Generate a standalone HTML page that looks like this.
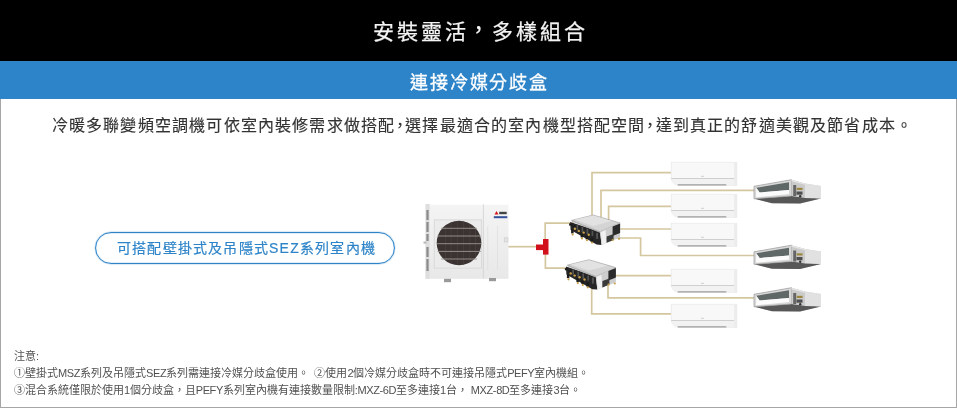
<!DOCTYPE html>
<html lang="zh-TW">
<head>
<meta charset="utf-8">
<style>
html,body{margin:0;padding:0;}
.hdr span,.bar span,.p1,.pill,.notes{will-change:transform;}
body{width:957px;height:408px;overflow:hidden;background:#fff;font-family:"Liberation Sans",sans-serif;position:relative;}
.hdr{position:absolute;left:0;top:0;width:957px;height:61px;background:#000;}
.hdr span{position:absolute;left:2px;width:957px;top:17px;text-align:center;color:#f4f4f4;font-size:21px;letter-spacing:2.85px;-webkit-text-stroke:0.25px #f4f4f4;line-height:30px;white-space:nowrap;}
.hdr i{font-style:normal;position:relative;top:-2px;left:-1px;}
.bar{position:absolute;left:0;top:61px;width:957px;height:38px;background:#2e84c8;}
.bar span{position:absolute;left:1px;width:957px;top:8.5px;text-align:center;color:#fff;font-size:18px;letter-spacing:1.87px;line-height:26px;-webkit-text-stroke:0.3px #fff;white-space:nowrap;}
.frame{position:absolute;left:0;top:99px;width:955px;height:308px;border:1px solid #a6a6a6;border-top:none;}
.p1{position:absolute;left:4px;width:957px;top:112.5px;text-align:center;color:#333;font-size:16px;letter-spacing:1.17px;-webkit-text-stroke:0.15px #333;line-height:26px;white-space:nowrap;}
.p1 i{font-style:normal;display:inline-block;width:10px;position:relative;top:-0.5px;left:-3.5px;text-indent:0;overflow:visible;letter-spacing:0;}
.pill{position:absolute;left:95px;top:232px;width:298px;height:30px;border:1px solid #2e84c8;border-radius:16px;box-shadow:0 0 0.8px 0.2px rgba(46,132,200,.55), inset 0 0 0.8px 0.2px rgba(46,132,200,.55);color:#2e84c8;font-size:14px;letter-spacing:1.2px;text-align:center;text-indent:3px;line-height:30px;white-space:nowrap;-webkit-text-stroke:0.2px #2e84c8;}
.notes{position:absolute;left:14px;top:347.5px;color:#505050;font-size:11px;line-height:17px;letter-spacing:0px;white-space:nowrap;}
.notes b{font-weight:normal;letter-spacing:-0.4px;}
.notes i.sp{display:inline-block;width:5.2px;}
svg{position:absolute;left:0;top:0;}
</style>
</head>
<body>
<div class="hdr"><span>安裝靈活<i>，</i>多樣組合</span></div>
<div class="bar"><span>連接冷媒分歧盒</span></div>
<div class="frame"></div>
<div class="p1">冷暖多聯變頻空調機可依室內裝修需求做搭配<i>，</i>選擇最適合的室內機型搭配空間<i>，</i>達到真正的舒適美觀及節省成本。</div>
<div class="pill">可搭配壁掛式及吊隱式SEZ系列室內機</div>
<div class="notes">注意:<br>①壁掛式<b>MSZ</b>系列及吊隱式<b>SEZ</b>系列需連接冷媒分歧盒使用。<i class="sp"></i>②使用<b>2</b>個冷媒分歧盒時不可連接吊隱式<b>PEFY</b>室內機組。<br>③混合系統僅限於使用<b>1</b>個分歧盒，且<b>PEFY</b>系列室內機有連接數量限制<b>:MXZ-6D</b>至多連接<b>1</b>台， <b>MXZ-8D</b>至多連接<b>3</b>台。</div>

<svg width="957" height="408" viewBox="0 0 957 408">
<defs>
  <clipPath id="fanclip"><circle cx="459" cy="243" r="22"/></clipPath>
  <clipPath id="fanclip2"><rect x="434.5" y="220" width="47" height="48"/></clipPath>
  <linearGradient id="odg" x1="0" y1="0" x2="0" y2="1">
    <stop offset="0" stop-color="#f4f4f4"/><stop offset="1" stop-color="#e8e8e8"/>
  </linearGradient>
  <linearGradient id="wug" x1="0" y1="0" x2="0" y2="1">
    <stop offset="0" stop-color="#f7f7f7"/><stop offset="0.7" stop-color="#f2f2f2"/><stop offset="1" stop-color="#ececec"/>
  </linearGradient>
  <g id="wall">
    <path d="M0.3,0.3 H65.8 V23.4 H7.5 Q1.5,22.8 0.3,17 Z" fill="#f8f8f8" stroke="#e3e3e3" stroke-width="0.6"/>
    <rect x="63.2" y="0.6" width="2.5" height="22.6" fill="#ececec"/>
    <path d="M0.6,16.8 H63 V23.2 H7.5 Q2,22.6 0.6,17.5 Z" fill="#f2f2f2"/>
    <line x1="0.3" y1="16.5" x2="63" y2="16.5" stroke="#c9c9c9" stroke-width="0.9"/>
    <line x1="6.7" y1="22.9" x2="55.3" y2="22.9" stroke="#9c9c9c" stroke-width="1.1"/>
    <rect x="30" y="13.8" width="3" height="1" fill="#cfcfcf"/>
  </g>
  <g id="duct">
    <polygon points="0,-3.7 37.5,-10.3 51,-6.5 67,-4 67,8.5 46,13.6 18,13.2 0,8.8" fill="#d2d2d2"/>
    <polygon points="0.5,8.8 37.5,6 67,8.5 46,13.6 18,13.2" fill="#575757"/>
    <polygon points="0,-3.7 37.5,-10.3 37.5,6 0,8.8" fill="#d8d8d8" stroke="#9a9a9a" stroke-width="0.7"/>
    <polygon points="2.3,-2.2 35,-7.7 35,0 5.6,2.5" fill="#5f6767"/>
    <polygon points="2.3,-2.2 5.6,2.5 35,0 35,4 2,7.3" fill="#fbfbfb"/>
    <polygon points="37.5,-10.3 51,-6.5 51,8 37.5,6" fill="#cbcbcb"/>
    <polygon points="37.5,-10.3 51,-6.5 51,-5.3 37.5,-8.8" fill="#e6e6e6"/>
    <rect x="39.2" y="-5" width="3" height="11" fill="#666"/>
    <rect x="42.8" y="-2.2" width="5.8" height="2.2" fill="#9c8640"/>
    <rect x="42.5" y="1.5" width="6" height="3.2" fill="#4e4e4e"/>
    <circle cx="46.2" cy="6.2" r="1.2" fill="#333"/>
    <polygon points="51,-6.5 67,-4 67,8.5 51,8" fill="#e1e1e1"/>
  </g>
  <g id="bbox">
    <polygon points="-1.5,1.5 28.4,11.3 30,24.5 25,24.2 -1,9.5" fill="#262626"/>
    <polygon points="0,0 28.4,11.3 28.4,12.4 0,1.2" fill="#bdbdbd"/>
    <polygon points="0,0 21.5,-5.4 48.5,2.5 28.4,11.3" fill="#d4d4d4" stroke="#8c8c8c" stroke-width="0.5"/>
    <polygon points="3,-0.6 21.5,-4.9 40,0.6 22,5.5" fill="#e2e2e2"/>
    <polygon points="28.4,11.3 48.5,2.5 48.5,17.2 30,24.5" fill="#cdcdcd"/>
    <polygon points="29.2,11.8 34,9.6 34.8,22.5 30.3,24.2" fill="#f0f0f0"/>
    <polygon points="41,6 48.5,3 48.5,12.5 41,15.5" fill="#2b2b2b"/>
    <polygon points="35,16 42,13.5 42,19.5 35,22.3" fill="#3a3a3a"/>
    <g fill="#1c1c1c">
      <rect x="-2.5" y="3" width="3" height="2.2"/><rect x="1" y="5" width="3" height="2.2"/><rect x="5" y="6.5" width="3" height="2.2"/>
      <rect x="-0.5" y="9" width="2.5" height="4"/><rect x="9" y="13" width="2.5" height="4"/><rect x="14" y="15" width="2.5" height="4"/><rect x="19" y="17.5" width="2.5" height="4"/>
    </g>
    <g fill="#555">
      <rect x="5" y="4.5" width="1.6" height="5"/><rect x="10" y="6.5" width="1.6" height="5"/><rect x="15" y="8.5" width="1.6" height="5"/><rect x="20" y="10.5" width="1.6" height="5"/><rect x="24.5" y="12.5" width="2" height="6"/>
    </g>
    <g fill="#c9a04a">
      <circle cx="3.3" cy="8.3" r="1.2"/><circle cx="7.2" cy="10.5" r="1.2"/><circle cx="12.1" cy="12.2" r="1.2"/><circle cx="17.1" cy="14.4" r="1.2"/>
      <circle cx="1.1" cy="14.2" r="1.1"/><circle cx="10.4" cy="18" r="1.1"/><circle cx="15.4" cy="19.8" r="1.1"/><circle cx="20.4" cy="22.2" r="1.1"/>
      <circle cx="41.1" cy="19.6" r="1.1"/><circle cx="47.4" cy="18.4" r="1.1"/>
    </g>
  </g>
</defs>

<!-- pipes -->
<g fill="none" stroke="#d4c69e" stroke-width="1.7">
  <path d="M508,246.7 H537"/>
  <path d="M545.2,239 V223.2 H574"/>
  <path d="M545.4,254 V268.2 H569"/>
  <path d="M592,215 V172.6 H671"/>
  <path d="M601,217 V190.3 H755"/>
  <path d="M608.6,221 V206.4 H671"/>
  <path d="M618,229 H671"/>
  <path d="M612,238 H640.6 V255.5 H755"/>
  <path d="M614,275.7 H671"/>
  <path d="M608,283 V297.8 H755"/>
  <path d="M591.7,287 V313.8 H671"/>
</g>

<!-- red T -->
<rect x="536" y="244.5" width="8" height="5.6" fill="#d2101c"/>
<rect x="543" y="239" width="5.5" height="15.6" fill="#d2101c"/>

<!-- outdoor unit -->
<g>
  <rect x="425.5" y="204" width="83" height="74.8" fill="url(#odg)"/>
  <rect x="425.5" y="204" width="83" height="1.2" fill="#fbfbfb"/>
  <rect x="425.5" y="204" width="4.2" height="74.8" fill="#dedede"/>
  <g fill="#8a8a8a">
    <rect x="426.4" y="210" width="2.2" height="10"/><rect x="426.4" y="222" width="2.2" height="10"/><rect x="426.4" y="234" width="2.2" height="7"/><rect x="426.4" y="247" width="2.2" height="10"/><rect x="426.4" y="259" width="2.2" height="12"/>
  </g>
  <rect x="423.5" y="241.5" width="3" height="2.2" fill="#bbb"/>
  <line x1="483.4" y1="204.5" x2="483.4" y2="278.5" stroke="#d0d0d0" stroke-width="0.8"/>
  <rect x="434.2" y="219.9" width="47.5" height="48.2" fill="#ebebeb" stroke="#d2d2d2" stroke-width="0.7"/>
  <circle cx="459" cy="243" r="22.3" fill="#3a3331"/>
  <g stroke="#463f3c" stroke-width="0.9" clip-path="url(#fanclip)">
    <line x1="445.4" y1="222.5" x2="445.4" y2="263.5"/><line x1="451" y1="221.5" x2="451" y2="264.5"/><line x1="457.3" y1="221" x2="457.3" y2="265"/><line x1="463.6" y1="221" x2="463.6" y2="265"/><line x1="469.9" y1="221.5" x2="469.9" y2="264.5"/><line x1="475.5" y1="223" x2="475.5" y2="263"/>
  </g>
  <g stroke="#9d9692" stroke-width="0.9" clip-path="url(#fanclip2)">
    <line x1="441" y1="228.3" x2="477" y2="228.3"/><line x1="437.5" y1="236" x2="481" y2="236"/><line x1="436.8" y1="243.7" x2="481.2" y2="243.7"/><line x1="437.5" y1="251.4" x2="481" y2="251.4"/><line x1="441" y1="259" x2="477" y2="259"/>
  </g>
  <line x1="487.7" y1="226" x2="487.7" y2="270" stroke="#dcdcdc" stroke-width="0.7"/>
  <line x1="497.5" y1="226" x2="497.5" y2="270" stroke="#dcdcdc" stroke-width="0.7"/>
  <polygon points="494.5,214.6 496.5,211 498.5,214.6" fill="#d8131b"/>
  <rect x="499.2" y="211.8" width="7.5" height="2.4" fill="#444"/>
  <rect x="493.8" y="216.2" width="13.5" height="2" fill="#33509a"/>
  <rect x="504.2" y="237.8" width="3.8" height="4.2" fill="#e2e2e2" stroke="#c8c8c8" stroke-width="0.5"/>
  <rect x="444" y="278.8" width="7" height="3.4" fill="#9a9a9a"/>
  <rect x="489" y="278" width="7" height="3.2" fill="#9a9a9a"/>
</g>

<!-- branch boxes -->
<use href="#bbox" x="571.6" y="220.4"/>
<use href="#bbox" x="567.4" y="265.1"/>

<!-- wall units -->
<use href="#wall" x="671" y="162"/>
<use href="#wall" x="671" y="194"/>
<use href="#wall" x="671" y="223"/>
<use href="#wall" x="671" y="269"/>
<use href="#wall" x="671" y="304"/>

<!-- ducted units -->
<use href="#duct" x="754" y="190"/>
<use href="#duct" x="754" y="255.5"/>
<use href="#duct" x="754" y="298"/>
</svg>
</body>
</html>
